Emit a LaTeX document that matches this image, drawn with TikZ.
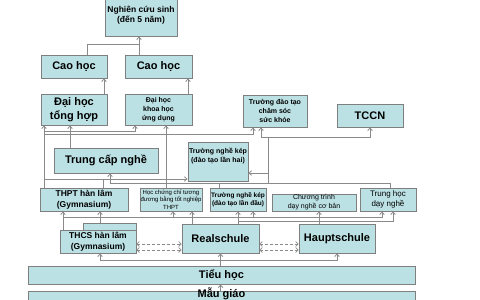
\documentclass[tikz,border=0pt]{standalone}
\usepackage{fontspec}
\setmainfont{Liberation Sans}
\usetikzlibrary{arrows.meta}
\definecolor{boxfill}{HTML}{BCE1E4}
\definecolor{boxline}{HTML}{7F7F7F}
\definecolor{conn}{HTML}{8A8A8A}
\newcommand{\fs}[2]{\fontsize{#1}{#2}\selectfont}
\begin{document}
\begin{tikzpicture}[x=1pt,y=-1pt,
  box/.style={draw=boxline, fill=boxfill, line width=0.9pt, inner sep=0pt, align=center},
  big/.style={font=\fs{11}{14}\bfseries},
  mid/.style={font=\fs{8.5}{10.5}\bfseries},
  sml/.style={font=\fs{7}{9}},
  tiny/.style={font=\fs{6}{7.5}},
  ln/.style={draw=conn, line width=0.8pt},
  arr/.style={ln, -{Straight Barb[length=2.5pt,width=4.5pt]}},
  darr/.style={draw=conn, line width=0.7pt, densely dashed, {Straight Barb[length=2.5pt,width=5pt]}-{Straight Barb[length=2.5pt,width=5pt]}}
]
\useasboundingbox (0,0) rectangle (480,300);
% boxes
\node[box, mid, minimum width=72pt, minimum height=42pt] (ncs) at (141,15) {Nghiên cứu sinh\\(đến 5 năm)};
\node[box, big, minimum width=66pt, minimum height=23pt] (ch1) at (74,66.5) {Cao học};
\node[box, big, minimum width=67pt, minimum height=23pt] (ch2) at (158.5,66.5) {Cao học};
\node[box, big, minimum width=66pt, minimum height=31pt] (dhth) at (74,109.5) {Đại học\\tổng hợp};
\node[box, font=\fs{7}{9}\bfseries, minimum width=67pt, minimum height=31pt] (dhkh) at (158.5,109.5) {Đại học\\khoa học\\ứng dụng};
\node[box, font=\fs{7}{9}\bfseries, minimum width=64pt, minimum height=32pt] (cssk) at (275,111) {Trường đào tạo\\chăm sóc\\sức khỏe};
\node[box, big, minimum width=66pt, minimum height=23pt] (tccn) at (370,115.5) {TCCN};
\node[box, big, minimum width=104pt, minimum height=25pt] (tcn) at (106,160.5) {Trung cấp nghề};
\node[box, font=\fs{7}{9.5}\bfseries, minimum width=60pt, minimum height=39pt] (tnk2) at (218,161.5) {Trường nghề kép\\(đào tạo lần hai)\\[3pt]};
\node[box, mid, minimum width=88pt, minimum height=23pt] (thpt) at (84,199.5) {THPT hàn lâm\\(Gymnasium)};
\node[box, tiny, minimum width=62pt, minimum height=23pt] (hcc) at (171,199.5) {Học chứng chỉ tương\\đương bằng tốt nghiệp\\THPT};
\node[box, font=\fs{6.5}{8.5}\bfseries, minimum width=56pt, minimum height=23pt] (tnk1) at (238,199.5) {Trường nghề kép\\(đào tạo lần đầu)};
\node[box, sml, minimum width=84pt, minimum height=17pt] (ctd) at (314,202.5) {Chương trình\\dạy nghề cơ bản};
\node[box, font=\fs{8}{9.5}, minimum width=56pt, minimum height=23pt] (thdn) at (388,199.5) {Trung học\\dạy nghề};
\node[box, minimum width=53pt, minimum height=30pt] (thcsb) at (109.5,238) {};
\node[box, mid, minimum width=76pt, minimum height=23pt] (thcs) at (98,241.5) {THCS hàn lâm\\(Gymnasium)};
\node[box, big, minimum width=77pt, minimum height=29pt] (real) at (220.5,238.5) {Realschule};
\node[box, big, minimum width=76pt, minimum height=29pt] (haupt) at (337,238.5) {Hauptschule};
\node[box, big, minimum width=387pt, minimum height=18pt] (tieu) at (221.5,275) {Tiểu học};
\node[box, minimum width=387pt, minimum height=22pt] (mau) at (221.5,302) {};
\node[big, anchor=base, inner sep=0pt] (mautext) at (221.5,297) {Mẫu giáo};
% lane coordinates
\coordinate (a87) at (87,44);
\coordinate (a139) at (139,44);
\coordinate (v104) at (104,0);
\coordinate (v188) at (188,0);
\coordinate (v44) at (44,0);
\coordinate (v70) at (70,0);
\coordinate (h131a) at (44,131);
\coordinate (h131b) at (135,131);
\coordinate (h134a) at (44,134);
\coordinate (h134b) at (253,134);
\coordinate (v166) at (166,0);
\coordinate (k183) at (268,183);
\coordinate (k137) at (268,137);
\coordinate (k173) at (268,173);
\coordinate (v261) at (261,0);
\coordinate (h179a) at (44,179);
\coordinate (v103) at (103,0);
\coordinate (v390) at (390,0);
\coordinate (h183a) at (110,183);
\coordinate (v219) at (219,0);
\coordinate (v63) at (63,0);
\coordinate (v100) at (100,0);
\coordinate (h217a) at (63,217);
\coordinate (v382) at (382,0);
\coordinate (v173) at (173,0);
\coordinate (v253) at (253,0);
\coordinate (v192) at (192,0);
\coordinate (v238) at (238,0);
\coordinate (h221a) at (238,221);
\coordinate (v393) at (393,0);
\coordinate (v319) at (319,0);
\coordinate (y244) at (0,244);
\coordinate (y250) at (0,250);
\coordinate (h260a) at (100,260);
% upper connectors
\draw[ln] (ch1.north -| a87) -- (a87) -- (a139);
\draw[arr] (ch2.north -| a139) -- (ncs.south -| a139);
\draw[arr] (dhth.north -| v104) -- (ch1.south -| v104);
\draw[arr] (dhkh.north -| v188) -- (ch2.south -| v188);
\draw[arr] (thpt.north -| v44) -- (dhth.south -| v44);
\draw[arr] (tcn.north -| v70) -- (dhth.south -| v70);
\draw[arr] (h131a) -- (h131b) -- (dhkh.south -| h131b);
\draw[arr] (h134a) -- (h134b) -- (cssk.south -| h134b);
\draw[arr] (hcc.north -| v166) -- (dhkh.south -| v166);
\draw[ln] (k183) -- (k137);
\draw[arr] (k137) -| (cssk.south -| v261);
\draw[arr] (k137) -| (tccn.south);
\draw[arr] (k173) -- (tnk2.east |- k173);
\draw[arr] (h179a) -- (tnk2.west |- h179a);
\draw[ln] (thpt.north -| v103) -- (v103 |- h179a);
\draw[arr] (thdn.north -| v390) |- (h183a) -- (tcn.south -| h183a);
\draw[ln] (tnk1.north -| v219) -- (v219 |- h183a);
% lower connectors
\draw[arr] (thcs.north -| v63) -- (thpt.south -| v63);
\draw[arr] (thcsb.north -| v100) -- (thpt.south -| v100);
\draw[arr] (h217a) -| (thdn.south -| v382);
\draw[arr] (v173 |- h217a) -- (hcc.south -| v173);
\draw[arr] (v253 |- h217a) -- (tnk1.south -| v253);
\draw[arr] (real.north -| v192) -- (hcc.south -| v192);
\draw[arr] (real.north -| v238) -- (tnk1.south -| v238);
\draw[arr] (h221a) -| (thdn.south -| v393);
\draw[arr] (haupt.north -| v319) -- (ctd.south -| v319);
\draw[darr] (thcs.east |- y244) -- (real.west |- y244);
\draw[darr] (thcs.east |- y250) -- (real.west |- y250);
\draw[darr] (real.east |- y244) -- (haupt.west |- y244);
\draw[darr] (real.east |- y250) -- (haupt.west |- y250);
\draw[arr] (tieu.north -| real.south) -- (real.south);
\draw[arr] (real.south |- h260a) -| (thcs.south -| h260a);
\draw[arr] (real.south |- h260a) -| (haupt.south);
\draw[arr] (mau.north -| real.south) -- (tieu.south -| real.south);
\end{tikzpicture}
\end{document}
